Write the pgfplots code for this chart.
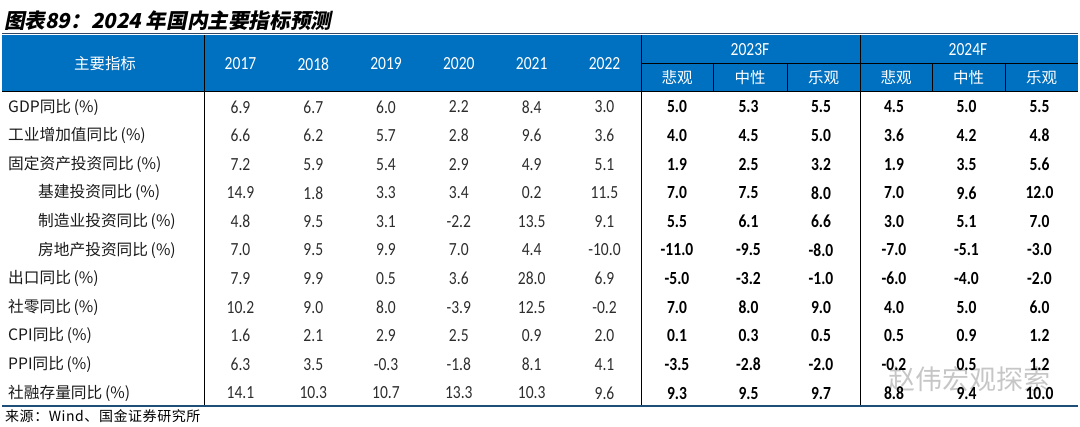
\documentclass[border=0pt]{standalone}
\usepackage{pgfplots}
\pgfplotsset{compat=1.18}
\usepackage{pgfplotstable}
\usepackage{fontspec}
\setmainfont{Noto Sans CJK SC}
\newfontfamily\cjk{Noto Sans CJK SC}
\newfontfamily\srcfont[LetterSpace=4]{Noto Sans CJK SC}
\newfontfamily\titlefont[FakeSlant=0.2]{Noto Sans CJK SC}
\newfontfamily\numfont[FakeStretch=0.84]{Carlito}
\definecolor{hdr}{RGB}{0,112,192}
\definecolor{botline}{RGB}{31,78,121}
\definecolor{titleline}{RGB}{50,70,100}
\definecolor{numgray}{RGB}{45,45,45}
\definecolor{lbl}{RGB}{25,25,25}

\pgfplotstableread[col sep=comma]{
y,lx,name,a,b,c,d,e,f,g,h,i,j,k,l
107,8,GDP同比,6.9,6.7,6.0,2.2,8.4,3.0,5.0,5.3,5.5,4.5,5.0,5.5
135.6,8,工业增加值同比,6.6,6.2,5.7,2.8,9.6,3.6,4.0,4.5,5.0,3.6,4.2,4.8
164.2,8,固定资产投资同比,7.2,5.9,5.4,2.9,4.9,5.1,1.9,2.5,3.2,1.9,3.5,5.6
192.8,38,基建投资同比,14.9,1.8,3.3,3.4,0.2,11.5,7.0,7.5,8.0,7.0,9.6,12.0
221.4,38,制造业投资同比,4.8,9.5,3.1,-2.2,13.5,9.1,5.5,6.1,6.6,3.0,5.1,7.0
250,38,房地产投资同比,7.0,9.5,9.9,7.0,4.4,-10.0,-11.0,-9.5,-8.0,-7.0,-5.1,-3.0
278.6,8,出口同比,7.9,9.9,0.5,3.6,28.0,6.9,-5.0,-3.2,-1.0,-6.0,-4.0,-2.0
307.2,8,社零同比,10.2,9.0,8.0,-3.9,12.5,-0.2,7.0,8.0,9.0,4.0,5.0,6.0
335.8,8,CPI同比,1.6,2.1,2.9,2.5,0.9,2.0,0.1,0.3,0.5,0.5,0.9,1.2
364.4,8,PPI同比,6.3,3.5,-0.3,-1.8,8.1,4.1,-3.5,-2.8,-2.0,-0.2,0.5,1.2
393,8,社融存量同比,14.1,10.3,10.7,13.3,10.3,9.6,9.3,9.5,9.7,8.8,9.4,10.0
}\data

\pgfplotsset{
  cellreg/.style={draw=none, mark=none, nodes near coords, point meta=explicit symbolic,
    every node near coord/.append style={inner sep=0pt, anchor=center, text=numgray,
      font=\numfont\fontsize{18.5}{18.5}\selectfont}},
  cellbold/.style={draw=none, mark=none, nodes near coords, point meta=explicit symbolic,
    every node near coord/.append style={inner sep=0pt, anchor=center, text=black,
      font=\numfont\bfseries\fontsize{18.5}{18.5}\selectfont}},
}

\begin{document}
\begin{tikzpicture}
\begin{axis}[scale only axis, width=1080pt, height=427pt,
  xmin=0, xmax=1080, ymin=0, ymax=427, y dir=reverse,
  hide axis, clip=false]
\path (axis cs:0,0) rectangle (axis cs:1080,427);
% title
\node[anchor=base west, inner sep=0pt, font=\titlefont\bfseries\fontsize{20.6}{24}\selectfont]
  at (axis cs:4,28.5) {图表89：2024 年国内主要指标预测};
\draw[line width=1pt, titleline] (axis cs:2,34) -- (axis cs:1078,34);
% header band
\fill[hdr] (axis cs:2,35) rectangle (axis cs:1078,91);
\draw[line width=0.9pt, black] (axis cs:2,91) -- (axis cs:1078,91);
\draw[line width=0.9pt, black] (axis cs:641,63) -- (axis cs:1078,63);
\foreach \xx in {713,787,932,1005} {
  \edef\tmp{\noexpand\draw[line width=0.9pt, black] (axis cs:\xx,63) -- (axis cs:\xx,91);}\tmp
}
\foreach \xx in {204,641,860} {
  \edef\tmp{\noexpand\draw[line width=0.9pt, black] (axis cs:\xx,35) -- (axis cs:\xx,406);}\tmp
}
\draw[line width=2pt, botline] (axis cs:2,406) -- (axis cs:1078,406);
% header text
\node[text=white, font=\cjk\fontsize{15.5}{16}\selectfont] at (axis cs:105,64) {主要指标};
\node[text=white, font=\numfont\fontsize{18.5}{18.5}\selectfont] at (axis cs:240.5,64) {2017};
\node[text=white, font=\numfont\fontsize{18.5}{18.5}\selectfont] at (axis cs:313.3,64) {2018};
\node[text=white, font=\numfont\fontsize{18.5}{18.5}\selectfont] at (axis cs:386,64) {2019};
\node[text=white, font=\numfont\fontsize{18.5}{18.5}\selectfont] at (axis cs:458.8,64) {2020};
\node[text=white, font=\numfont\fontsize{18.5}{18.5}\selectfont] at (axis cs:531.7,64) {2021};
\node[text=white, font=\numfont\fontsize{18.5}{18.5}\selectfont] at (axis cs:604.5,64) {2022};
\node[text=white, font=\numfont\fontsize{18.5}{18.5}\selectfont] at (axis cs:750,50) {2023F};
\node[text=white, font=\numfont\fontsize{18.5}{18.5}\selectfont] at (axis cs:968,50) {2024F};
\foreach \xx/\tt in {677/悲观,750/中性,823.5/乐观,896/悲观,968.5/中性,1041.5/乐观} {
  \edef\tmp{\noexpand\node[text=white, font=\noexpand\cjk\noexpand\fontsize{15.5}{16}\noexpand\selectfont] at (axis cs:\xx,78) {\tt};}\tmp
}
% row labels
\addplot[draw=none, mark=none, nodes near coords={\pgfplotspointmeta\,(\%)}, point meta=explicit symbolic,
  every node near coord/.append style={inner sep=0pt, anchor=west, text=lbl,
    font=\cjk\fontsize{15.7}{16}\selectfont}]
  table[x=lx, y=y, meta=name] {\data};
% historical values
\addplot[cellreg] table[x expr=240.5, y=y, meta=a] {\data};
\addplot[cellreg] table[x expr=313.3, y=y, meta=b] {\data};
\addplot[cellreg] table[x expr=386, y=y, meta=c] {\data};
\addplot[cellreg] table[x expr=458.8, y=y, meta=d] {\data};
\addplot[cellreg] table[x expr=531.7, y=y, meta=e] {\data};
\addplot[cellreg] table[x expr=604.5, y=y, meta=f] {\data};
% forecasts
\addplot[cellbold] table[x expr=677, y=y, meta=g] {\data};
\addplot[cellbold] table[x expr=748.5, y=y, meta=h] {\data};
\addplot[cellbold] table[x expr=821, y=y, meta=i] {\data};
\addplot[cellbold] table[x expr=894, y=y, meta=j] {\data};
\addplot[cellbold] table[x expr=966.5, y=y, meta=k] {\data};
\addplot[cellbold] table[x expr=1039.5, y=y, meta=l] {\data};
% watermark
\node[text=gray!45, font=\cjk\fontsize{27}{27}\selectfont, anchor=west] at (axis cs:885,379) {赵伟宏观探索};
% source
\node[anchor=base west, inner sep=0pt, text=black, font=\srcfont\fontsize{14}{14}\selectfont]
  at (axis cs:5,422) {来源：Wind、国金证券研究所};
\end{axis}
\end{tikzpicture}
\end{document}
